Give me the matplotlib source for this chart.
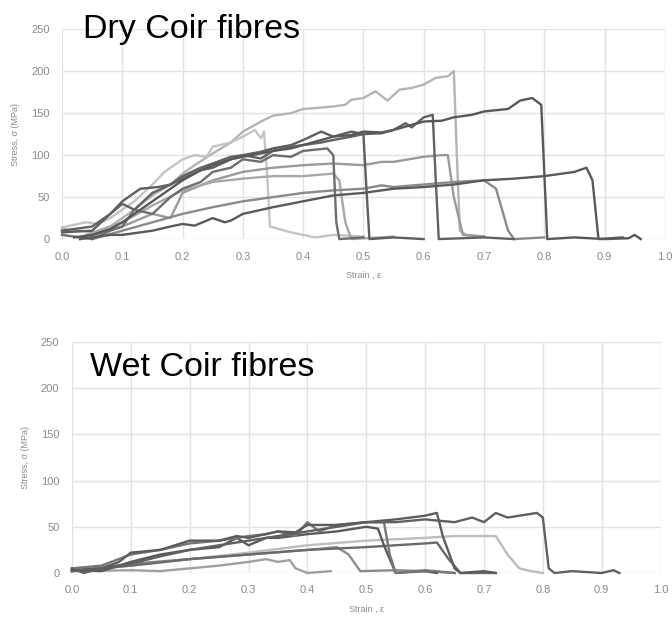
import matplotlib
matplotlib.use("Agg")
import matplotlib.pyplot as plt

plt.rcParams['font.family'] = ['Liberation Sans', 'DejaVu Sans']

x_ticks = [0.0, 0.1, 0.2, 0.3, 0.4, 0.5, 0.6, 0.7, 0.8, 0.9, 1.0]
y_ticks = [0, 50, 100, 150, 200, 250]

# ---- Dry coir fibres
dry_1_strain = [0.0, 0.03, 0.06, 0.08, 0.1, 0.12, 0.15, 0.18, 0.2, 0.22, 0.25, 0.28, 0.3, 0.33, 0.35, 0.38, 0.4, 0.42, 0.45, 0.47, 0.48, 0.5, 0.52, 0.54, 0.56, 0.58, 0.6, 0.62, 0.64, 0.65, 0.655, 0.66, 0.67, 0.7]
dry_1_stress = [12, 10, 8, 15, 25, 35, 52, 65, 78, 88, 102, 115, 128, 140, 147, 150, 155, 156, 158, 160, 166, 168, 176, 165, 178, 180, 184, 192, 194, 200, 100, 10, 5, 3]
dry_2_strain = [0.0, 0.04, 0.06, 0.08, 0.1, 0.12, 0.15, 0.17, 0.2, 0.22, 0.24, 0.25, 0.28, 0.3, 0.32, 0.33, 0.335, 0.34, 0.345, 0.38, 0.42, 0.45, 0.5]
dry_2_stress = [14, 20, 18, 25, 35, 45, 65, 80, 95, 100, 98, 110, 115, 122, 130, 120, 128, 80, 15, 8, 2, 5, 3]
dry_3_strain = [0.02, 0.05, 0.08, 0.1, 0.13, 0.15, 0.18, 0.2, 0.23, 0.25, 0.28, 0.3, 0.33, 0.35, 0.38, 0.4, 0.43, 0.45, 0.48, 0.5, 0.53, 0.55, 0.58, 0.6, 0.63, 0.65, 0.68, 0.7, 0.74, 0.76, 0.78, 0.795, 0.8, 0.805, 0.85, 0.9, 0.94, 0.95, 0.96]
dry_3_stress = [2, 5, 12, 20, 35, 45, 60, 70, 82, 88, 95, 98, 102, 105, 108, 112, 118, 122, 124, 128, 127, 130, 136, 140, 141, 145, 148, 152, 155, 165, 168, 160, 80, 0, 2, 0, 1, 5, 0]
dry_4_strain = [0.0, 0.05, 0.08, 0.1, 0.12, 0.15, 0.18, 0.2, 0.23, 0.25, 0.28, 0.3, 0.33, 0.35, 0.38, 0.4, 0.43, 0.45, 0.48, 0.5, 0.53, 0.55, 0.57, 0.58, 0.6, 0.615, 0.62, 0.625, 0.7, 0.75]
dry_4_stress = [10, 15, 30, 42, 35, 55, 65, 75, 85, 90, 98, 100, 96, 105, 110, 112, 115, 118, 122, 125, 126, 130, 138, 133, 145, 148, 70, 0, 2, 0]
dry_5_strain = [0.0, 0.05, 0.08, 0.1, 0.13, 0.16, 0.18, 0.2, 0.23, 0.25, 0.28, 0.3, 0.33, 0.35, 0.38, 0.4, 0.43, 0.45, 0.48, 0.5, 0.505, 0.51, 0.55, 0.6]
dry_5_stress = [8, 10, 30, 45, 60, 62, 65, 72, 82, 85, 95, 100, 104, 108, 112, 118, 128, 122, 128, 125, 60, 0, 2, 0]
dry_6_strain = [0.0, 0.05, 0.08, 0.1, 0.12, 0.15, 0.18, 0.2, 0.23, 0.25, 0.28, 0.3, 0.33, 0.35, 0.38, 0.4, 0.44, 0.45, 0.455, 0.46, 0.5]
dry_6_stress = [5, 0, 10, 15, 35, 30, 50, 60, 68, 80, 85, 95, 92, 100, 98, 105, 108, 100, 20, 0, 2]
dry_7_strain = [0.03, 0.1, 0.15, 0.18, 0.2, 0.25, 0.3, 0.35, 0.4, 0.45, 0.5, 0.53, 0.55, 0.6, 0.63, 0.64, 0.65, 0.665, 0.7]
dry_7_stress = [0, 15, 30, 25, 55, 70, 80, 85, 88, 90, 88, 92, 92, 98, 100, 100, 50, 5, 3]
dry_8_strain = [0.04, 0.1, 0.15, 0.2, 0.25, 0.3, 0.35, 0.4, 0.45, 0.46, 0.47, 0.48, 0.55]
dry_8_stress = [5, 20, 40, 58, 68, 72, 75, 75, 78, 70, 20, 0, 3]
dry_9_strain = [0.05, 0.1, 0.15, 0.2, 0.25, 0.3, 0.35, 0.4, 0.45, 0.5, 0.53, 0.55, 0.6, 0.65, 0.7, 0.72, 0.74, 0.75, 0.8]
dry_9_stress = [0, 10, 20, 30, 38, 45, 50, 55, 58, 60, 64, 62, 65, 68, 70, 60, 10, 0, 2]
dry_10_strain = [0.03, 0.08, 0.1, 0.13, 0.15, 0.18, 0.2, 0.22, 0.25, 0.27, 0.28, 0.3, 0.35, 0.4, 0.45, 0.5, 0.53, 0.55, 0.6, 0.65, 0.7, 0.75, 0.8, 0.85, 0.87, 0.88, 0.89, 0.93]
dry_10_stress = [0, 5, 5, 8, 10, 15, 18, 16, 25, 20, 22, 30, 38, 45, 52, 55, 58, 60, 62, 65, 70, 72, 75, 80, 85, 70, 0, 2]

dry_series = [
    (dry_1_strain, dry_1_stress, '#b4b4b4'),
    (dry_2_strain, dry_2_stress, '#c4c4c4'),
    (dry_7_strain, dry_7_stress, '#9a9a9a'),
    (dry_8_strain, dry_8_stress, '#a8a8a8'),
    (dry_9_strain, dry_9_stress, '#8a8a8a'),
    (dry_6_strain, dry_6_stress, '#6e6e6e'),
    (dry_5_strain, dry_5_stress, '#5e5e5e'),
    (dry_4_strain, dry_4_stress, '#626262'),
    (dry_3_strain, dry_3_stress, '#585858'),
    (dry_10_strain, dry_10_stress, '#5a5a5a'),
]

# ---- Wet coir fibres
wet_1_strain = [0.0, 0.02, 0.05, 0.1, 0.15, 0.2, 0.25, 0.3, 0.35, 0.4, 0.45, 0.5, 0.55, 0.6, 0.65, 0.68, 0.7, 0.72, 0.74, 0.76, 0.79, 0.8, 0.81, 0.82, 0.85, 0.9, 0.92, 0.93]
wet_1_stress = [5, 0, 5, 10, 18, 25, 30, 35, 40, 45, 50, 55, 55, 58, 55, 60, 55, 65, 60, 62, 65, 60, 5, 0, 2, 0, 3, 0]
wet_2_strain = [0.0, 0.05, 0.08, 0.1, 0.15, 0.2, 0.25, 0.28, 0.3, 0.35, 0.38, 0.4, 0.45, 0.5, 0.55, 0.6, 0.62, 0.63, 0.65, 0.66, 0.7, 0.72]
wet_2_stress = [3, 5, 12, 22, 25, 35, 35, 40, 38, 45, 44, 52, 52, 55, 58, 62, 65, 40, 5, 0, 2, 0]
wet_3_strain = [0.0, 0.1, 0.2, 0.3, 0.4, 0.5, 0.6, 0.65, 0.7, 0.72, 0.74, 0.76, 0.78, 0.8]
wet_3_stress = [2, 8, 15, 22, 30, 35, 38, 40, 40, 40, 20, 5, 2, 0]
wet_4_strain = [0.0, 0.05, 0.1, 0.15, 0.2, 0.25, 0.28, 0.3, 0.33, 0.35, 0.4, 0.45, 0.5, 0.52, 0.53, 0.55, 0.6, 0.62]
wet_4_stress = [3, 2, 12, 20, 25, 28, 38, 30, 38, 38, 42, 45, 50, 48, 30, 0, 2, 0]
wet_5_strain = [0.0, 0.1, 0.2, 0.3, 0.4, 0.5, 0.55, 0.6, 0.62, 0.64, 0.66, 0.72]
wet_5_stress = [2, 8, 15, 20, 25, 28, 30, 32, 33, 15, 0, 0]
wet_6_strain = [0.0, 0.05, 0.1, 0.15, 0.2, 0.25, 0.3, 0.33, 0.35, 0.38, 0.4, 0.42, 0.45, 0.5, 0.53, 0.54, 0.55, 0.6, 0.65]
wet_6_stress = [5, 8, 20, 25, 32, 35, 40, 42, 45, 40, 55, 45, 52, 55, 55, 20, 0, 3, 0]
wet_7_strain = [0.0, 0.1, 0.2, 0.3, 0.4, 0.45, 0.47, 0.49, 0.55, 0.6, 0.65]
wet_7_stress = [2, 10, 15, 20, 25, 28, 20, 2, 3, 2, 0]
wet_8_strain = [0.0, 0.1, 0.15, 0.2, 0.25, 0.3, 0.33, 0.35, 0.37, 0.38, 0.4, 0.44]
wet_8_stress = [2, 3, 2, 5, 8, 12, 15, 12, 14, 5, 0, 2]

wet_series = [
    (wet_8_strain, wet_8_stress, '#a0a0a0'),
    (wet_3_strain, wet_3_stress, '#bdbdbd'),
    (wet_7_strain, wet_7_stress, '#8c8c8c'),
    (wet_5_strain, wet_5_stress, '#6a6a6a'),
    (wet_4_strain, wet_4_stress, '#5a5a5a'),
    (wet_6_strain, wet_6_stress, '#777777'),
    (wet_2_strain, wet_2_stress, '#5c5c5c'),
    (wet_1_strain, wet_1_stress, '#606060'),
]

fig = plt.figure(figsize=(6.72, 6.21), dpi=100)
ax1 = fig.add_axes([0.0923, 0.615, 0.897, 0.338])
ax2 = fig.add_axes([0.107, 0.0773, 0.876, 0.372])

def style(ax):
    ax.set_xlim(0, 1.0)
    ax.set_ylim(0, 250)
    ax.set_xticks(x_ticks)
    ax.set_yticks(y_ticks)
    ax.set_xticklabels([f"{t:.1f}" for t in x_ticks])
    ax.grid(True, color='#e3e3e3', linewidth=1.0)
    ax.set_axisbelow(True)
    for s in ax.spines.values():
        s.set_visible(False)
    ax.tick_params(length=0, labelsize=8, colors='#8a8a8a', pad=9)
    ax.set_xlabel('Strain , ε', fontsize=6.5, color='#8a8a8a', labelpad=7)
    ax.set_ylabel('Stress, σ (MPa)', fontsize=6.5, color='#8a8a8a', labelpad=8)

for sx, sy, c in dry_series:
    ax1.plot(sx, sy, color=c, linewidth=1.7, clip_on=False)
for sx, sy, c in wet_series:
    ax2.plot(sx, sy, color=c, linewidth=1.7, clip_on=False)

style(ax1)
style(ax2)

fig.text(83/672, 1 - 38/621, 'Dry Coir fibres', fontsize=24.5, color='black', va='baseline', ha='left')
fig.text(90/672, 1 - 376/621, 'Wet Coir fibres', fontsize=24.5, color='black', va='baseline', ha='left')

fig.savefig('out.png', dpi=100, facecolor='white')
